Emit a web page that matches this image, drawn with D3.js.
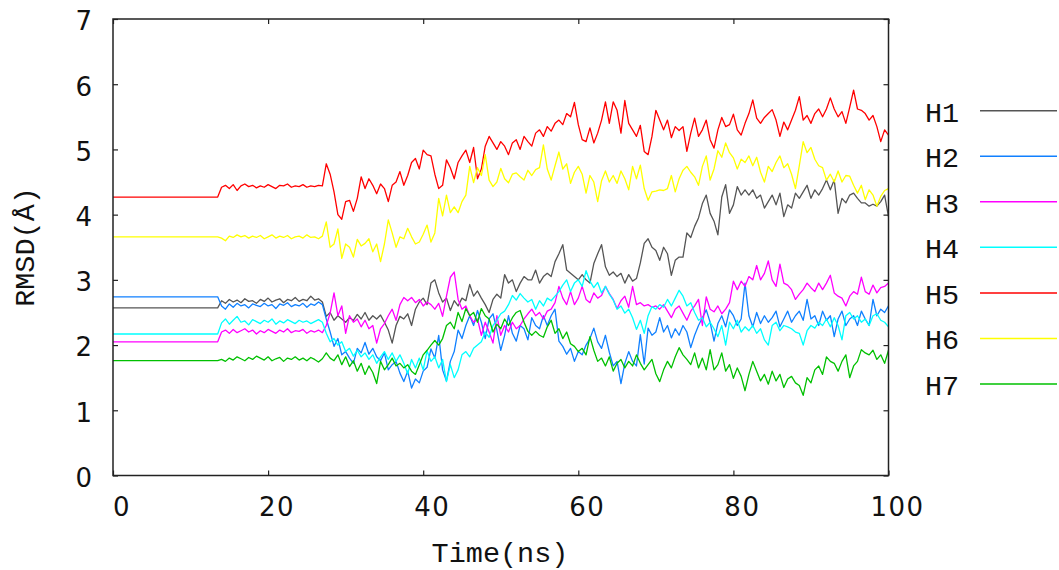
<!DOCTYPE html>
<html>
<head>
<meta charset="utf-8">
<script src="https://cdn.jsdelivr.net/npm/d3@7"></script>
<style>
  html, body { margin: 0; padding: 0; background: #fff; }
  svg { display: block; }
</style>
</head>
<body>
<svg id="chart" width="1059" height="570"></svg>
<script>
// ---------------- data ----------------
const seriesNames = ["H1", "H2", "H3", "H4", "H5", "H6", "H7"];
const seriesColors = ["#555555", "#1080ff", "#ff00ff", "#00ffff", "#ff0000", "#ffff00", "#00c000"];
const xTicks = [0, 20, 40, 60, 80, 100];
const yTicks = [0, 1, 2, 3, 4, 5, 6, 7];
// sample times (ns): start point, then every 0.5 ns from 13.5 to 100
const sampleTimes = [0].concat(d3.range(13.5, 100.001, 0.5));

const H1 = [2.57, 2.57,
  2.68, 2.64, 2.70, 2.66, 2.69, 2.65, 2.71, 2.67, 2.68, 2.64,
  2.70, 2.67, 2.72, 2.66, 2.69, 2.71, 2.65, 2.70, 2.68, 2.73,
  2.67, 2.70, 2.68, 2.75, 2.69, 2.71, 2.66, 2.44, 2.50, 2.38,
  2.45, 2.40, 2.35, 2.42, 2.38, 2.47, 2.40, 2.50, 2.38, 2.45,
  2.40, 2.46, 2.35, 2.23, 2.03, 2.30, 2.44, 2.40, 2.48, 2.30,
  2.55, 2.66, 2.72, 2.62, 2.95, 3.00, 2.80, 2.66, 2.72, 2.53,
  2.68, 2.60, 2.72, 2.68, 2.93, 2.75, 2.83, 2.72, 2.62, 2.50,
  2.70, 2.78, 2.72, 3.08, 2.95, 3.00, 2.82, 2.95, 3.05, 3.00,
  3.00, 3.15, 2.95, 3.05, 3.10, 3.05, 3.28, 3.40, 3.54, 3.15,
  3.10, 3.05, 3.00, 3.08, 3.00, 2.95, 3.25, 3.40, 3.54, 3.20,
  3.07, 3.12, 3.05, 3.10, 2.95, 3.08, 2.98, 3.02, 3.26, 3.56,
  3.63, 3.50, 3.45, 3.30, 3.50, 3.40, 3.07, 3.30, 3.35, 3.35,
  3.72, 3.65, 3.82, 3.95, 4.17, 4.30, 4.02, 3.90, 3.69, 4.27,
  4.46, 4.02, 4.15, 4.43, 4.30, 4.38, 4.30, 4.38, 4.25, 4.30,
  4.10, 4.20, 4.30, 4.15, 4.33, 3.97, 4.15, 4.10, 4.33, 4.25,
  4.35, 4.45, 4.25, 4.38, 4.30, 4.40, 4.53, 4.38, 4.53, 4.02,
  4.25, 4.18, 4.30, 4.33, 4.25, 4.18, 4.18, 4.13, 4.16, 4.13,
  4.20, 4.30, 3.97];

const H2 = [2.74, 2.74,
  2.60, 2.55, 2.63, 2.58, 2.64, 2.60, 2.62, 2.57, 2.63, 2.61,
  2.59, 2.64, 2.60, 2.62, 2.56, 2.63, 2.61, 2.65, 2.59, 2.62,
  2.60, 2.64, 2.58, 2.63, 2.61, 2.66, 2.62, 2.40, 2.20, 1.98,
  2.10, 1.85, 1.90, 1.80, 1.72, 1.95, 1.88, 2.04, 1.86, 1.95,
  1.82, 1.76, 1.88, 1.62, 1.70, 1.75, 1.57, 1.44, 1.60, 1.34,
  1.48, 1.42, 1.60, 1.66, 1.94, 1.80, 2.15, 1.62, 1.45, 1.75,
  1.90, 2.23, 2.10, 2.30, 2.45, 2.30, 2.53, 2.35, 2.10, 2.40,
  2.48, 2.23, 1.92, 2.15, 2.45, 2.18, 2.06, 2.30, 2.25, 2.08,
  2.42, 2.30, 2.25, 2.45, 2.30, 2.45, 2.55, 2.06, 1.98, 1.86,
  1.95, 1.75, 1.90, 1.85, 2.00, 2.10, 2.26, 2.05, 1.95, 2.15,
  1.89, 1.68, 1.75, 1.41, 1.72, 1.90, 1.75, 1.68, 2.16, 1.71,
  2.26, 2.15, 2.20, 2.42, 2.20, 2.30, 2.11, 2.25, 2.15, 2.30,
  2.20, 1.96, 2.15, 2.30, 2.42, 2.54, 2.35, 2.06, 2.33, 2.45,
  2.28, 2.54, 2.45, 2.30, 2.40, 2.95, 2.45, 2.28, 2.50, 2.33,
  2.45, 2.35, 2.42, 2.52, 2.28, 2.40, 2.52, 2.35, 2.45, 2.52,
  2.38, 2.70, 2.40, 2.45, 2.30, 2.52, 2.38, 2.45, 2.13, 2.40,
  2.52, 2.30, 2.40, 2.45, 2.30, 2.52, 2.40, 2.30, 2.70, 2.45,
  2.55, 2.50, 2.60];

const H3 = [2.05, 2.05,
  2.20, 2.23, 2.18, 2.24, 2.19, 2.22, 2.25, 2.20, 2.23, 2.17,
  2.22, 2.19, 2.24, 2.21, 2.18, 2.23, 2.20, 2.25, 2.19, 2.22,
  2.21, 2.24, 2.18, 2.22, 2.20, 2.23, 2.19, 2.30, 2.49, 2.80,
  2.45, 2.60, 2.18, 2.45, 2.35, 2.40, 2.28, 2.38, 2.25, 2.30,
  2.03, 2.25, 2.33, 2.45, 2.55, 2.38, 2.62, 2.73, 2.68, 2.73,
  2.65, 2.70, 2.60, 2.66, 2.62, 2.55, 2.64, 2.44, 2.75, 3.04,
  3.12, 2.70, 2.55, 2.60, 2.45, 2.35, 2.40, 2.15, 2.35, 2.20,
  2.03, 2.45, 2.15, 2.30, 2.20, 2.35, 2.25, 2.30, 2.40, 2.48,
  2.55, 2.45, 2.50, 2.40, 2.52, 2.55, 2.65, 2.90, 2.72, 2.62,
  2.82, 2.62, 2.72, 2.90, 2.70, 2.65, 2.80, 2.72, 2.76, 2.90,
  2.79, 2.70, 2.56, 2.68, 2.75, 2.58, 2.90, 2.62, 2.65, 2.60,
  2.62, 2.58, 2.60, 2.55, 2.62, 2.52, 2.42, 2.55, 2.60, 2.49,
  2.38, 2.52, 2.60, 2.70, 2.30, 2.74, 2.55, 2.51, 2.60, 2.48,
  2.55, 2.65, 2.98, 2.85, 2.98, 2.90, 3.05, 3.00, 3.22, 3.00,
  3.10, 3.29, 3.00, 2.90, 3.24, 2.95, 2.92, 2.85, 2.70, 2.78,
  2.85, 2.95, 2.88, 2.82, 2.95, 2.85, 2.95, 3.07, 2.80, 2.75,
  2.72, 2.60, 2.75, 2.82, 2.78, 3.04, 2.82, 2.78, 2.92, 2.80,
  2.88, 2.90, 2.95];

const H4 = [2.17, 2.17,
  2.34, 2.40, 2.32, 2.38, 2.44, 2.35, 2.37, 2.31, 2.39, 2.36,
  2.33, 2.38, 2.35, 2.40, 2.32, 2.37, 2.34, 2.39, 2.36, 2.33,
  2.38, 2.35, 2.37, 2.33, 2.36, 2.39, 2.35, 2.18, 2.05, 2.10,
  2.00, 2.05, 1.90, 1.95, 1.83, 1.92, 1.82, 1.88, 1.78, 1.85,
  1.72, 1.82, 1.90, 1.78, 1.88, 1.75, 1.85, 1.72, 1.56, 1.78,
  1.65, 1.80, 1.62, 1.91, 1.75, 1.82, 1.65, 1.78, 1.44, 1.70,
  1.50, 1.62, 1.85, 1.90, 1.82, 1.95, 2.00, 2.05, 2.20, 2.12,
  2.30, 2.38, 2.48, 2.52, 2.62, 2.76, 2.69, 2.79, 2.72, 2.66,
  2.70, 2.55, 2.68, 2.60, 2.72, 2.68, 2.75, 2.82, 2.92, 3.00,
  2.82, 2.95, 3.00, 2.90, 3.14, 2.98, 2.88, 2.96, 2.80, 2.90,
  2.78, 2.69, 2.55, 2.60, 2.49, 2.55, 2.42, 2.24, 2.38, 2.18,
  2.45, 2.59, 2.55, 2.62, 2.58, 2.70, 2.60, 2.72, 2.84, 2.75,
  2.60, 2.65, 2.50, 2.38, 2.42, 2.28, 2.35, 2.25, 2.13, 2.30,
  2.00, 2.35, 2.25, 2.38, 2.20, 2.28, 2.22, 2.30, 2.18, 2.25,
  2.08, 2.00, 2.30, 2.35, 2.22, 2.30, 2.28, 2.25, 2.20, 2.18,
  2.00, 2.22, 2.30, 2.26, 2.35, 2.30, 2.40, 2.28, 2.42, 2.30,
  2.08, 2.45, 2.50, 2.40, 2.45, 2.35, 2.40, 2.30, 2.45, 2.48,
  2.38, 2.35, 2.28];

const H5 = [4.27, 4.27,
  4.42, 4.45, 4.40, 4.46, 4.37, 4.44, 4.47, 4.43, 4.45, 4.41,
  4.44, 4.42, 4.46, 4.43, 4.40, 4.45, 4.44, 4.47, 4.42, 4.44,
  4.43, 4.46, 4.42, 4.44, 4.43, 4.45, 4.44, 4.78, 4.62, 4.35,
  4.00, 3.93, 4.20, 4.22, 4.05, 4.25, 4.58, 4.40, 4.55, 4.45,
  4.32, 4.47, 4.40, 4.20, 4.45, 4.50, 4.66, 4.45, 4.60, 4.80,
  4.86, 4.70, 4.99, 4.92, 4.90, 4.62, 4.40, 4.45, 4.84, 4.72,
  4.55, 4.80, 4.90, 4.99, 4.80, 5.03, 4.55, 4.70, 5.05, 5.20,
  5.10, 5.00, 5.12, 5.05, 4.92, 5.10, 5.15, 5.00, 5.20, 5.12,
  5.05, 5.25, 5.30, 5.20, 5.35, 5.28, 5.40, 5.45, 5.38, 5.55,
  5.50, 5.72, 5.38, 5.15, 5.12, 5.33, 5.10, 5.25, 5.45, 5.73,
  5.40, 5.73, 5.60, 5.25, 5.75, 5.40, 5.30, 5.20, 5.37, 4.97,
  4.92, 5.20, 5.60, 5.45, 5.30, 5.45, 5.18, 5.35, 5.29, 5.35,
  4.97, 5.25, 5.48, 5.20, 5.30, 5.45, 5.15, 5.02, 5.30, 5.49,
  5.35, 5.38, 5.54, 5.30, 5.22, 5.40, 5.55, 5.76, 5.48, 5.40,
  5.49, 5.55, 5.61, 5.45, 5.20, 5.42, 5.30, 5.45, 5.60, 5.81,
  5.45, 5.52, 5.40, 5.55, 5.62, 5.50, 5.62, 5.79, 5.62, 5.50,
  5.58, 5.40, 5.65, 5.91, 5.62, 5.60, 5.55, 5.45, 5.52, 5.35,
  5.12, 5.30, 5.22];

const H6 = [3.66, 3.66,
  3.64, 3.60, 3.67, 3.65, 3.69, 3.66, 3.68, 3.64, 3.67, 3.65,
  3.68, 3.63, 3.66, 3.69, 3.64, 3.67, 3.65, 3.68, 3.63, 3.66,
  3.67, 3.64, 3.69, 3.65, 3.66, 3.63, 3.67, 3.89, 3.50, 3.55,
  3.78, 3.33, 3.55, 3.50, 3.35, 3.62, 3.52, 3.56, 3.63, 3.43,
  3.55, 3.28, 3.55, 3.92, 3.72, 3.50, 3.66, 3.63, 3.79, 3.66,
  3.55, 3.58, 3.70, 3.84, 3.58, 3.72, 4.25, 3.98, 4.30, 4.03,
  4.12, 4.03, 4.20, 4.30, 4.74, 4.49, 4.72, 4.60, 4.92, 4.53,
  4.43, 4.50, 4.71, 4.55, 4.49, 4.62, 4.64, 4.58, 4.53, 4.68,
  4.60, 4.69, 4.72, 5.07, 4.70, 4.53, 4.75, 4.96, 4.70, 4.78,
  4.48, 4.65, 4.74, 4.62, 4.33, 4.60, 4.50, 4.20, 4.52, 4.67,
  4.50, 4.60, 4.48, 4.67, 4.55, 4.38, 4.74, 4.55, 4.76, 4.40,
  4.22, 4.35, 4.36, 4.38, 4.37, 4.40, 4.60, 4.35, 4.55, 4.68,
  4.74, 4.65, 4.58, 4.45, 4.74, 4.90, 4.53, 4.70, 4.98, 4.88,
  5.10, 4.95, 4.87, 4.70, 4.85, 4.80, 4.90, 4.75, 4.88, 4.65,
  4.50, 4.74, 4.66, 4.80, 4.90, 4.72, 4.78, 4.62, 4.40, 4.75,
  5.12, 4.95, 5.03, 4.85, 4.75, 4.72, 4.53, 4.62, 4.50, 4.67,
  4.50, 4.60, 4.59, 4.45, 4.33, 4.45, 4.23, 4.38, 4.30, 4.13,
  4.28, 4.37, 4.40];

const H7 = [1.76, 1.76,
  1.78, 1.75, 1.80, 1.77, 1.82, 1.79, 1.76, 1.81, 1.78, 1.83,
  1.80, 1.77, 1.82, 1.76, 1.79, 1.81, 1.75, 1.80, 1.78, 1.82,
  1.77, 1.80, 1.76, 1.81, 1.78, 1.74, 1.79, 1.88, 1.80, 1.76,
  1.85, 1.70, 1.82, 1.67, 1.76, 1.60, 1.72, 1.55, 1.68, 1.58,
  1.41, 1.75, 1.62, 1.70, 1.80, 1.68, 1.72, 1.65, 1.70, 1.60,
  1.55, 1.70, 1.85, 1.92, 2.00, 2.07, 2.00, 2.10, 2.30, 2.35,
  2.25, 2.50, 2.36, 2.56, 2.45, 2.50, 2.35, 2.56, 2.45, 2.40,
  2.20, 2.32, 2.25, 2.40, 2.30, 2.42, 2.50, 2.53, 2.35, 2.21,
  2.15, 2.21, 2.15, 2.12, 2.28, 2.38, 2.18, 2.25, 2.10, 2.20,
  2.02, 1.98, 1.90, 1.95, 1.85, 2.13, 1.92, 1.75, 1.80, 1.68,
  1.82, 1.60, 1.72, 1.78, 1.65, 1.75, 1.68, 1.85, 1.72, 1.62,
  1.70, 1.78, 1.56, 1.44, 1.62, 1.75, 1.65, 1.82, 1.96, 1.85,
  1.78, 1.70, 1.88, 1.65, 1.80, 1.62, 1.93, 1.62, 1.70, 1.88,
  1.60, 1.70, 1.49, 1.65, 1.52, 1.30, 1.55, 1.75, 1.60, 1.45,
  1.55, 1.40, 1.60, 1.45, 1.55, 1.35, 1.48, 1.52, 1.42, 1.38,
  1.23, 1.50, 1.42, 1.62, 1.68, 1.55, 1.82, 1.75, 1.72, 1.60,
  1.75, 1.85, 1.50, 1.68, 1.75, 1.93, 1.88, 1.85, 1.92, 1.78,
  1.85, 1.72, 1.92];

const seriesValues = [H1, H2, H3, H4, H5, H6, H7];

// ---------------- drawing ----------------
const svg = d3.select("#chart");
const plot = { left: 113, right: 888.5, top: 19, bottom: 475.5 };

const x = d3.scaleLinear().domain([0, 100]).range([plot.left, plot.right]);
const y = d3.scaleLinear().domain([0, 7]).range([plot.bottom, plot.top]);

svg.append("defs").append("clipPath").attr("id", "clip")
  .append("rect")
  .attr("x", plot.left).attr("y", plot.top)
  .attr("width", plot.right - plot.left).attr("height", plot.bottom - plot.top);

const line = d3.line()
  .x((d, i) => x(sampleTimes[i]))
  .y(d => y(d));

const gLines = svg.append("g").attr("clip-path", "url(#clip)");
seriesValues.forEach((vals, k) => {
  gLines.append("path")
    .datum(vals)
    .attr("fill", "none")
    .attr("stroke", seriesColors[k])
    .attr("stroke-width", 1.3)
    .attr("stroke-linejoin", "round")
    .attr("d", line);
});

// axes (ticks inward, mirrored)
const axisColor = "#222";
function styleAxis(g) {
  g.select(".domain").remove();
  g.selectAll(".tick line").attr("stroke", axisColor).attr("stroke-width", 1.2);
}

const gx = svg.append("g").attr("transform", `translate(0,${plot.bottom})`)
  .call(d3.axisBottom(x).tickValues(xTicks).tickSizeInner(-5).tickSizeOuter(0).tickFormat(d3.format("d")));
styleAxis(gx);
gx.selectAll(".tick text")
  .attr("y", 40.5).attr("dy", 0).attr("dx", 8.5)
  .attr("fill", "#111")
  .style("font-family", "'DejaVu Sans', sans-serif")
  .style("font-size", "26px")
  .style("letter-spacing", "1.5px");

const gxTop = svg.append("g").attr("transform", `translate(0,${plot.top})`)
  .call(d3.axisTop(x).tickValues(xTicks).tickSizeInner(-5).tickSizeOuter(0).tickFormat(""));
styleAxis(gxTop);

const gy = svg.append("g").attr("transform", `translate(${plot.left},0)`)
  .call(d3.axisLeft(y).tickValues(yTicks).tickSizeInner(-5).tickSizeOuter(0).tickFormat(d3.format("d")));
styleAxis(gy);
gy.selectAll(".tick text")
  .attr("x", -21).attr("dy", "0.42em")
  .attr("fill", "#111")
  .style("font-family", "'DejaVu Sans', sans-serif")
  .style("font-size", "26px");

const gyRight = svg.append("g").attr("transform", `translate(${plot.right},0)`)
  .call(d3.axisRight(y).tickValues(yTicks).tickSizeInner(-5).tickSizeOuter(0).tickFormat(""));
styleAxis(gyRight);

// frame
svg.append("rect")
  .attr("x", plot.left).attr("y", plot.top)
  .attr("width", plot.right - plot.left).attr("height", plot.bottom - plot.top)
  .attr("fill", "none").attr("stroke", axisColor).attr("stroke-width", 1.5);

// axis titles
const monoFont = "'Liberation Mono', 'DejaVu Sans Mono', monospace";
svg.append("text")
  .attr("x", 500).attr("y", 561.5)
  .attr("text-anchor", "middle")
  .attr("fill", "#111")
  .style("font-family", monoFont).style("font-size", "28.5px")
  .text("Time(ns)");

svg.append("text")
  .attr("transform", "translate(34,247) rotate(-90)")
  .attr("text-anchor", "middle")
  .attr("fill", "#111")
  .style("font-family", monoFont).style("font-size", "28.5px")
  .text("RMSD(Å)");

// legend
const legendTop = 110.7, legendStep = 45.55;
const gLeg = svg.append("g");
seriesNames.forEach((name, k) => {
  const ly = legendTop + k * legendStep;
  gLeg.append("text")
    .attr("x", 925).attr("y", ly + 11)
    .attr("fill", "#111")
    .style("font-family", monoFont).style("font-size", "28.5px")
    .text(name);
  gLeg.append("line")
    .attr("x1", 980).attr("x2", 1057)
    .attr("y1", ly).attr("y2", ly)
    .attr("stroke", seriesColors[k]).attr("stroke-width", 1.5);
});
</script>
</body>
</html>
